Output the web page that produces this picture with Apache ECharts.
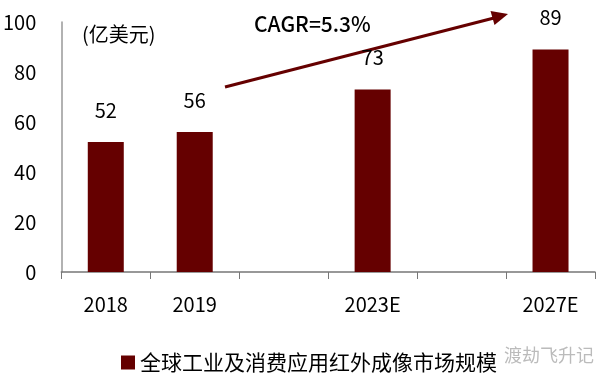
<!DOCTYPE html>
<html>
<head>
<meta charset="utf-8">
<script src="https://cdn.jsdelivr.net/npm/echarts@6/dist/echarts.min.js"></script>
<style>html,body{margin:0;padding:0;background:#fff}#c{width:607px;height:378px}</style>
</head>
<body>
<div id="c"></div>
<script>
const categories = ['2018', '2019', '', '2023E', '', '2027E'];
const values = [52, 56, null, 73, null, 89];
const yTicks = [0, 20, 40, 60, 80, 100];
const seriesName = '全球工业及消费应用红外成像市场规模';
const unitText = '(亿美元)';
const cagrText = 'CAGR=5.3%';
const watermark = '渡劫飞升记';

const FONT = '"Noto Sans CJK SC", "Noto Sans", sans-serif';
const RED = '#650000';
const chart = echarts.init(document.getElementById('c'));
chart.setOption({
  animation: false,
  backgroundColor: '#fff',
  textStyle: { fontFamily: FONT, color: '#000' },
  grid: { left: 61, right: 12, top: 22, bottom: 106 },
  legend: {
    data: [seriesName],
    left: 116, top: 347,
    icon: 'rect', itemWidth: 14, itemHeight: 14, itemGap: 5,
    textStyle: { fontSize: 21, color: '#000', fontFamily: FONT }
  },
  xAxis: {
    type: 'category',
    data: categories,
    axisLine: { lineStyle: { color: '#777', width: 1.5 } },
    axisTick: { show: true, length: 7, lineStyle: { color: '#777' } },
    axisLabel: { fontSize: 20, color: '#000', margin: 22, fontFamily: FONT }
  },
  yAxis: {
    type: 'value', min: yTicks[0], max: yTicks[yTicks.length - 1], interval: 20,
    axisLine: { show: true, lineStyle: { color: '#999', width: 1.5 } },
    axisTick: { show: false },
    splitLine: { show: false },
    axisLabel: { fontSize: 20, color: '#000', margin: 25, fontFamily: FONT }
  },
  series: [{
    name: seriesName,
    type: 'bar',
    data: values,
    barWidth: 36,
    itemStyle: { color: RED },
    label: { show: true, position: 'top', distance: 22, fontSize: 20, color: '#000', fontFamily: FONT }
  }],
  graphic: [
    { type: 'text', left: 82, top: 24, style: { text: unitText, fontSize: 20, fill: '#000', fontFamily: FONT } },
    { type: 'text', left: 254, top: 14, style: { text: cagrText, fontSize: 21, fontWeight: 500, fill: '#000', fontFamily: FONT } },
    { type: 'line', shape: { x1: 225, y1: 87, x2: 494, y2: 18 }, style: { stroke: RED, lineWidth: 3 } },
    { type: 'polygon', shape: { points: [[508, 14], [494.5, 25], [490.5, 11]] }, style: { fill: RED } },
    { type: 'text', left: 504, top: 346, style: { text: watermark, fontSize: 18, fill: '#bbb', fontFamily: FONT } }
  ]
});
</script>
</body>
</html>
